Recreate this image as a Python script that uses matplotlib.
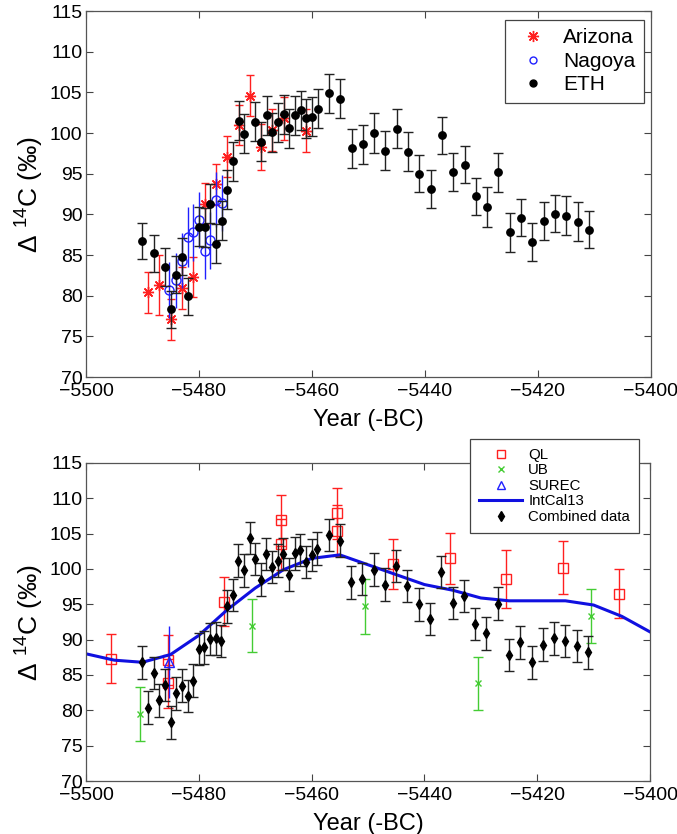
import matplotlib
matplotlib.use("Agg")
import matplotlib.pyplot as plt
from matplotlib.lines import Line2D
import numpy as np

plt.rcParams['font.family'] = ['Liberation Sans', 'DejaVu Sans']
plt.rcParams['mathtext.fontset'] = 'custom'
plt.rcParams['mathtext.rm'] = 'Liberation Sans'
plt.rcParams['mathtext.it'] = 'Liberation Sans:italic'
plt.rcParams['axes.unicode_minus'] = True

# ---------------- top panel data ----------------
eth_year = [-5490, -5488, -5486, -5485, -5484, -5483, -5482, -5480, -5479, -5478,
            -5477, -5476, -5475, -5474, -5473, -5472, -5470, -5469, -5468, -5467,
            -5466, -5465, -5464, -5463, -5462, -5461, -5460, -5459, -5457, -5455,
            -5453, -5451, -5449, -5447, -5445, -5443, -5441, -5439, -5437, -5435,
            -5433, -5431, -5429, -5427, -5425, -5423, -5421, -5419, -5417, -5415,
            -5413, -5411]
eth_d14c = [86.7, 85.2, 83.5, 78.3, 82.6, 84.8, 79.9, 88.5, 88.4, 91.3,
            86.4, 89.2, 93.0, 96.5, 101.5, 99.9, 101.4, 98.9, 102.2, 100.1,
            101.3, 102.3, 100.6, 102.2, 102.8, 101.8, 102.0, 103.0, 104.9, 104.2,
            98.1, 98.6, 100.0, 97.8, 100.5, 97.7, 95.0, 93.1, 99.7, 95.2,
            96.1, 92.2, 90.9, 95.2, 87.8, 89.6, 86.6, 89.2, 90.1, 89.8,
            89.1, 88.1]
eth_err = [2.2, 2.3, 2.3, 2.3, 2.3, 2.3, 2.3, 2.4, 2.4, 2.4,
           2.4, 2.4, 2.4, 2.4, 2.4, 2.4, 2.4, 2.4, 2.4, 2.4,
           2.4, 2.4, 2.4, 2.4, 2.4, 2.4, 2.4, 2.4, 2.4, 2.4,
           2.4, 2.4, 2.4, 2.4, 2.4, 2.4, 2.3, 2.3, 2.3, 2.3,
           2.3, 2.3, 2.4, 2.4, 2.4, 2.3, 2.3, 2.3, 2.3, 2.4,
           2.4, 2.3]

ari_year = [-5489, -5487, -5485, -5483, -5481, -5479, -5477, -5475, -5473, -5471,
            -5469, -5467, -5465, -5461]
ari_d14c = [80.4, 81.3, 77.1, 80.9, 82.3, 91.3, 93.7, 97.1, 101.0, 104.6,
            98.3, 100.4, 101.8, 100.3]
ari_err = [2.5, 3.7, 2.5, 2.6, 2.5, 2.5, 2.55, 2.5, 2.5, 2.5,
           2.8, 2.6, 2.6, 2.6]

nag_year = [-5485.3, -5484, -5483, -5482, -5481, -5480, -5479, -5478, -5477, -5476]
nag_d14c = [80.7, 81.9, 84.3, 87.2, 87.8, 89.3, 85.5, 86.8, 91.8, 91.4]
nag_err = [3.5, 3.4, 3.4, 3.7, 3.5, 3.5, 3.4, 3.5, 3.4, 3.4]

# ---------------- bottom panel data ----------------
comb_year = [-5490, -5489, -5488, -5487, -5486, -5485, -5484, -5483, -5482, -5481,
             -5480, -5479, -5478, -5477, -5476, -5475, -5474, -5473, -5472, -5471,
             -5470, -5469, -5468, -5467, -5466, -5465, -5464, -5463, -5462, -5461,
             -5460, -5459, -5457, -5455, -5453, -5451, -5449, -5447, -5445, -5443,
             -5441, -5439, -5437, -5435, -5433, -5431, -5429, -5427, -5425, -5423,
             -5421, -5419, -5417, -5415, -5413, -5411]
comb_d14c = [86.8, 80.4, 85.3, 81.4, 83.6, 78.3, 82.4, 83.5, 82.0, 84.2,
             88.7, 88.9, 90.1, 90.2, 89.8, 94.7, 96.3, 101.2, 99.8, 104.4,
             101.4, 98.5, 102.1, 100.3, 101.2, 102.1, 99.2, 102.2, 102.7, 101.0,
             102.0, 102.9, 104.8, 104.0, 98.1, 98.6, 99.9, 97.8, 100.4, 97.6,
             95.0, 92.9, 99.6, 95.2, 96.2, 92.2, 90.9, 95.1, 87.8, 89.6,
             86.8, 89.3, 90.2, 89.8, 89.1, 88.2]
comb_err = [2.3] * 56

ql_year = [-5495.5, -5485.5, -5485.5, -5475.5, -5465.5, -5465.5, -5455.5, -5455.5,
           -5445.5, -5435.5, -5425.5, -5415.5, -5405.5]
ql_d14c = [87.3, 87.1, 83.8, 95.4, 106.9, 103.5, 107.9, 105.4,
           100.7, 101.5, 98.6, 100.2, 96.5]
ql_err = [3.5, 3.5, 3.5, 3.4, 3.6, 3.6, 3.6, 3.6, 3.6, 3.6, 4.1, 3.7, 3.5]

ub_year = [-5490.5, -5470.5, -5450.5, -5430.5, -5410.5]
ub_d14c = [79.5, 92.0, 94.7, 83.8, 93.3]
ub_err = [3.8, 3.8, 3.85, 3.8, 3.8]

surec_year = [-5485.3]
surec_d14c = [86.8]
surec_err = [5.1]

intcal_year = [-5500, -5495, -5490, -5485, -5480, -5475, -5470, -5465, -5460, -5455,
               -5450, -5445, -5440, -5435, -5430, -5425, -5420, -5415, -5410, -5405,
               -5400]
intcal_d14c = [88.0, 87.1, 86.8, 87.9, 90.6, 94.2, 97.3, 99.9, 101.5, 102.0,
               100.6, 99.2, 97.8, 97.0, 95.9, 95.5, 95.5, 95.5, 94.9, 93.3,
               91.1]

xticks = [-5500, -5480, -5460, -5440, -5420, -5400]
yticks = [70, 75, 80, 85, 90, 95, 100, 105, 110, 115]

RED = '#ff2020'
BLUE = '#2020ff'
GREEN = '#44cc33'
LINEBLUE = '#1010e0'
EBLACK = '#222222'

W, H = 677, 834
fig = plt.figure(figsize=(W / 100, H / 100), dpi=100)

ax1 = fig.add_axes([86 / W, 1 - 377 / H, 565 / W, 366 / H])
ax2 = fig.add_axes([86 / W, 1 - 781 / H, 564 / W, 318 / H])

ylabel = 'Δ $^{14}$C (‰)'

def style_axes(ax):
    ax.set_xlim(-5500, -5400)
    ax.set_ylim(70, 115)
    ax.set_xticks(xticks)
    ax.set_yticks(yticks)
    ax.tick_params(direction='in', top=True, right=True, length=5, width=0.8,
                   labelsize=14, color='#444444', pad=2.5)
    ax.tick_params(axis='x', pad=4.5)
    for s in ax.spines.values():
        s.set_color('#555555')
        s.set_linewidth(0.9)
    ax.set_xlabel('Year (-BC)', fontsize=17, labelpad=6)
    ax.set_ylabel(ylabel, fontsize=19, labelpad=3)

# ---- top ----
ax1.errorbar(ari_year, ari_d14c, yerr=ari_err, fmt='none', ecolor=RED,
             elinewidth=1.0, capsize=3)
ax1.plot(ari_year, ari_d14c, linestyle='none', marker=(8, 2, 0), color=RED,
         markersize=8, markeredgewidth=1.0)
ax1.errorbar(nag_year, nag_d14c, yerr=nag_err, fmt='none', ecolor=BLUE,
             elinewidth=1.0, capsize=0)
ax1.plot(nag_year, nag_d14c, linestyle='none', marker='o', markerfacecolor='none',
         markeredgecolor=BLUE, markersize=6.5, markeredgewidth=1.0)
ax1.errorbar(eth_year, eth_d14c, yerr=eth_err, fmt='o', color='black',
             ecolor=EBLACK, elinewidth=1.0, capsize=3.5, capthick=1.0,
             markersize=5.3)
style_axes(ax1)

h1 = [Line2D([], [], linestyle='none', marker=(8, 2, 0), color=RED, markersize=8,
             markeredgewidth=1.0),
      Line2D([], [], linestyle='none', marker='o', markerfacecolor='none',
             markeredgecolor=BLUE, markersize=5),
      Line2D([], [], linestyle='none', marker='o', color='black', markersize=5)]
leg1 = ax1.legend(h1, ['Arizona', 'Nagoya', 'ETH'], loc='upper right',
                  bbox_to_anchor=(644 / W, 1 - 20 / H), bbox_transform=fig.transFigure,
                  borderaxespad=0, fontsize=15, fancybox=False, framealpha=1,
                  edgecolor='#444444', handlelength=1.9, handletextpad=0.5,
                  labelspacing=0.22, borderpad=0.4)
leg1.get_frame().set_linewidth(0.9)

# ---- bottom ----
ax2.errorbar(ql_year, ql_d14c, yerr=ql_err, fmt='none', ecolor=RED,
             elinewidth=1.0, capsize=3.5)
ax2.plot(ql_year, ql_d14c, linestyle='none', marker='s', markerfacecolor='none',
         markeredgecolor=RED, markersize=6.5, markeredgewidth=1.0)
ax2.errorbar(ub_year, ub_d14c, yerr=ub_err, fmt='none', ecolor=GREEN,
             elinewidth=1.0, capsize=3.5)
ax2.plot(ub_year, ub_d14c, linestyle='none', marker='x', color=GREEN,
         markersize=5, markeredgewidth=1.0)
ax2.errorbar(surec_year, surec_d14c, yerr=surec_err, fmt='none', ecolor=BLUE,
             elinewidth=1.0, capsize=0)
ax2.plot(surec_year, surec_d14c, linestyle='none', marker='^', markerfacecolor='none',
         markeredgecolor=BLUE, markersize=6.5, markeredgewidth=1.0)
ax2.plot(intcal_year, intcal_d14c, color=LINEBLUE, linewidth=2.2)
ax2.errorbar(comb_year, comb_d14c, yerr=comb_err, fmt='d', color='black',
             ecolor=EBLACK, elinewidth=1.0, capsize=3.5, capthick=1.0,
             markersize=5.5)
style_axes(ax2)

h2 = [Line2D([], [], linestyle='none', marker='s', markerfacecolor='none',
             markeredgecolor=RED, markersize=5.5),
      Line2D([], [], linestyle='none', marker='x', color=GREEN, markersize=4.5),
      Line2D([], [], linestyle='none', marker='^', markerfacecolor='none',
             markeredgecolor=BLUE, markersize=5.5),
      Line2D([], [], color=LINEBLUE, linewidth=2.2),
      Line2D([], [], linestyle='none', marker='d', color='black', markersize=5.5)]
leg2 = ax2.legend(h2, ['QL', 'UB', 'SUREC', 'IntCal13', 'Combined data'],
                  loc='upper right', bbox_to_anchor=(639 / W, 1 - 439 / H),
                  bbox_transform=fig.transFigure, borderaxespad=0, fontsize=10.8,
                  fancybox=False, framealpha=1, edgecolor='#444444',
                  handlelength=2.9, handletextpad=0.4, labelspacing=0.1,
                  borderpad=0.6)
leg2.get_frame().set_linewidth(0.9)

fig.savefig('out.png', dpi=100)
